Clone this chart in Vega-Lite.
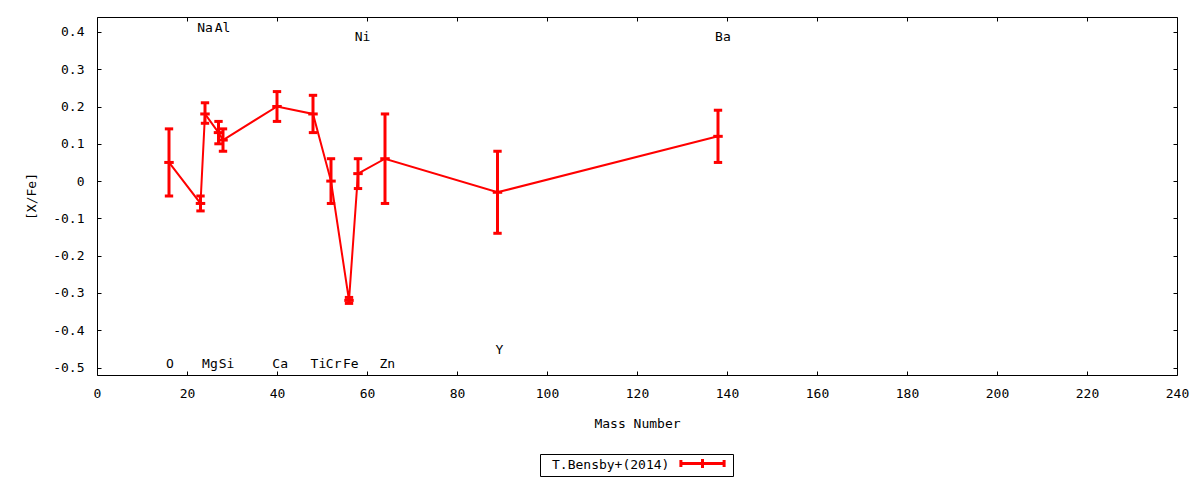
{
  "$schema": "https://vega.github.io/schema/vega-lite/v6.json",
  "width": 1080,
  "height": 358,
  "autosize": {"type": "none"},
  "padding": {"left": 97, "top": 17, "right": 23, "bottom": 105},
  "background": "white",
  "config": {
    "font": "DejaVu Sans Mono",
    "view": {"stroke": "black", "strokeWidth": 1},
    "axis": {
      "domain": false,
      "grid": false,
      "tickColor": "black",
      "tickSize": -4,
      "tickWidth": 1,
      "labelFlush": false,
      "labelFont": "DejaVu Sans Mono",
      "labelFontSize": 13,
      "labelColor": "black",
      "titleFont": "DejaVu Sans Mono",
      "titleFontSize": 13,
      "titleFontWeight": "normal",
      "titleColor": "black"
    }
  },
  "datasets": {
    "abund": [
      {"el": "O", "A": 16, "v": 0.05, "lo": -0.04, "hi": 0.14, "series": "T.Bensby+(2014)"},
      {"el": "Na", "A": 23, "v": -0.06, "lo": -0.08, "hi": -0.04, "series": "T.Bensby+(2014)"},
      {"el": "Mg", "A": 24, "v": 0.18, "lo": 0.155, "hi": 0.21, "series": "T.Bensby+(2014)"},
      {"el": "Al", "A": 27, "v": 0.13, "lo": 0.10, "hi": 0.16, "series": "T.Bensby+(2014)"},
      {"el": "Si", "A": 28, "v": 0.11, "lo": 0.08, "hi": 0.14, "series": "T.Bensby+(2014)"},
      {"el": "Ca", "A": 40, "v": 0.20, "lo": 0.16, "hi": 0.24, "series": "T.Bensby+(2014)"},
      {"el": "Ti", "A": 48, "v": 0.18, "lo": 0.13, "hi": 0.23, "series": "T.Bensby+(2014)"},
      {"el": "Cr", "A": 52, "v": 0.00, "lo": -0.06, "hi": 0.06, "series": "T.Bensby+(2014)"},
      {"el": "Fe", "A": 56, "v": -0.32, "lo": -0.328, "hi": -0.312, "series": "T.Bensby+(2014)"},
      {"el": "Ni", "A": 58, "v": 0.02, "lo": -0.02, "hi": 0.06, "series": "T.Bensby+(2014)"},
      {"el": "Zn", "A": 64, "v": 0.06, "lo": -0.06, "hi": 0.18, "series": "T.Bensby+(2014)"},
      {"el": "Y", "A": 89, "v": -0.03, "lo": -0.14, "hi": 0.08, "series": "T.Bensby+(2014)"},
      {"el": "Ba", "A": 138, "v": 0.12, "lo": 0.05, "hi": 0.19, "series": "T.Bensby+(2014)"}
    ],
    "labels": [
      {"el": "Na", "lx": 24.0, "ly": 0.41},
      {"el": "Al", "lx": 27.9, "ly": 0.41},
      {"el": "Ni", "lx": 59.0, "ly": 0.387},
      {"el": "Ba", "lx": 139.1, "ly": 0.387},
      {"el": "O", "lx": 16.2, "ly": -0.49},
      {"el": "Mg", "lx": 25.1, "ly": -0.49},
      {"el": "Si", "lx": 28.8, "ly": -0.49},
      {"el": "Ca", "lx": 40.7, "ly": -0.49},
      {"el": "Ti", "lx": 49.2, "ly": -0.49},
      {"el": "Cr", "lx": 52.6, "ly": -0.49},
      {"el": "Fe", "lx": 56.4, "ly": -0.49},
      {"el": "Zn", "lx": 64.5, "ly": -0.49},
      {"el": "Y", "lx": 89.4, "ly": -0.452}
    ]
  },
  "layer": [
    {
      "data": {"name": "abund"},
      "mark": {"type": "line", "color": "#ff0000", "strokeWidth": 2},
      "encoding": {
        "x": {
          "field": "A", "type": "quantitative",
          "scale": {"domain": [0, 240], "nice": false, "zero": false},
          "axis": {
            "orient": "bottom",
            "values": [0, 20, 40, 60, 80, 100, 120, 140, 160, 180, 200, 220, 240],
            "labelPadding": 16,
            "title": "Mass Number",
            "titlePadding": 17
          }
        },
        "y": {
          "field": "v", "type": "quantitative",
          "scale": {"domain": [-0.52, 0.44], "nice": false, "zero": false},
          "axis": {
            "orient": "left",
            "values": [-0.5, -0.4, -0.3, -0.2, -0.1, 0, 0.1, 0.2, 0.3, 0.4],
            "labelExpr": "abs(datum.value) < 1e-9 ? '0' : (datum.value < 0 ? '-' : '') + format(abs(datum.value), '.1f')",
            "labelPadding": 17,
            "title": "[X/Fe]",
            "titlePadding": 14
          }
        },
        "color": {
          "field": "series", "type": "nominal",
          "scale": {"range": ["#ff0000"]},
          "legend": {
            "orient": "none",
            "legendX": 443,
            "legendY": 437,
            "title": "\u2800T.Bensby+(2014)",
            "titleOrient": "left",
            "titleFont": "DejaVu Sans Mono",
            "titleFontSize": 13,
            "titleFontWeight": "normal",
            "titleColor": "black",
            "titlePadding": 25,
            "strokeColor": "black",
            "padding": 2,
            "labelExpr": "''",
            "labelOffset": 0,
            "symbolType": "M-3.6,0H3.6M-3.6,-0.6V0.6M3.6,-0.6V0.6M0,-0.75V0.75",
            "symbolSize": 144,
            "symbolStrokeWidth": 3,
            "symbolStrokeColor": "#ff0000",
            "symbolFillColor": "transparent"
          }
        }
      }
    },
    {
      "data": {"name": "abund"},
      "mark": {"type": "rule", "color": "#ff0000", "strokeWidth": 3},
      "encoding": {
        "x": {"field": "A", "type": "quantitative", "axis": null},
        "y": {"field": "lo", "type": "quantitative", "axis": null},
        "y2": {"field": "hi"}
      }
    },
    {
      "data": {"name": "abund"},
      "mark": {"type": "point", "shape": "M-1,0H1", "filled": false, "stroke": "#ff0000", "strokeWidth": 3, "size": 70, "opacity": 1},
      "encoding": {
        "x": {"field": "A", "type": "quantitative", "axis": null},
        "y": {"field": "lo", "type": "quantitative", "axis": null}
      }
    },
    {
      "data": {"name": "abund"},
      "mark": {"type": "point", "shape": "M-1,0H1", "filled": false, "stroke": "#ff0000", "strokeWidth": 3, "size": 70, "opacity": 1},
      "encoding": {
        "x": {"field": "A", "type": "quantitative", "axis": null},
        "y": {"field": "hi", "type": "quantitative", "axis": null}
      }
    },
    {
      "data": {"name": "abund"},
      "mark": {"type": "point", "shape": "M-1,0H1", "filled": false, "stroke": "#ff0000", "strokeWidth": 3, "size": 90, "opacity": 1},
      "encoding": {
        "x": {"field": "A", "type": "quantitative", "axis": null},
        "y": {"field": "v", "type": "quantitative", "axis": null}
      }
    },
    {
      "data": {"name": "labels"},
      "mark": {"type": "text", "font": "DejaVu Sans Mono", "fontSize": 13, "color": "black", "align": "center", "baseline": "middle"},
      "encoding": {
        "x": {
          "field": "lx", "type": "quantitative",
          "axis": {
            "orient": "top",
            "values": [0, 20, 40, 60, 80, 100, 120, 140, 160, 180, 200, 220, 240],
            "labels": false,
            "title": null
          }
        },
        "y": {
          "field": "ly", "type": "quantitative",
          "axis": {
            "orient": "right",
            "values": [-0.5, -0.4, -0.3, -0.2, -0.1, 0, 0.1, 0.2, 0.3, 0.4],
            "labels": false,
            "title": null
          }
        },
        "text": {"field": "el"}
      }
    }
  ],
  "resolve": {"axis": {"x": "independent", "y": "independent"}}
}
